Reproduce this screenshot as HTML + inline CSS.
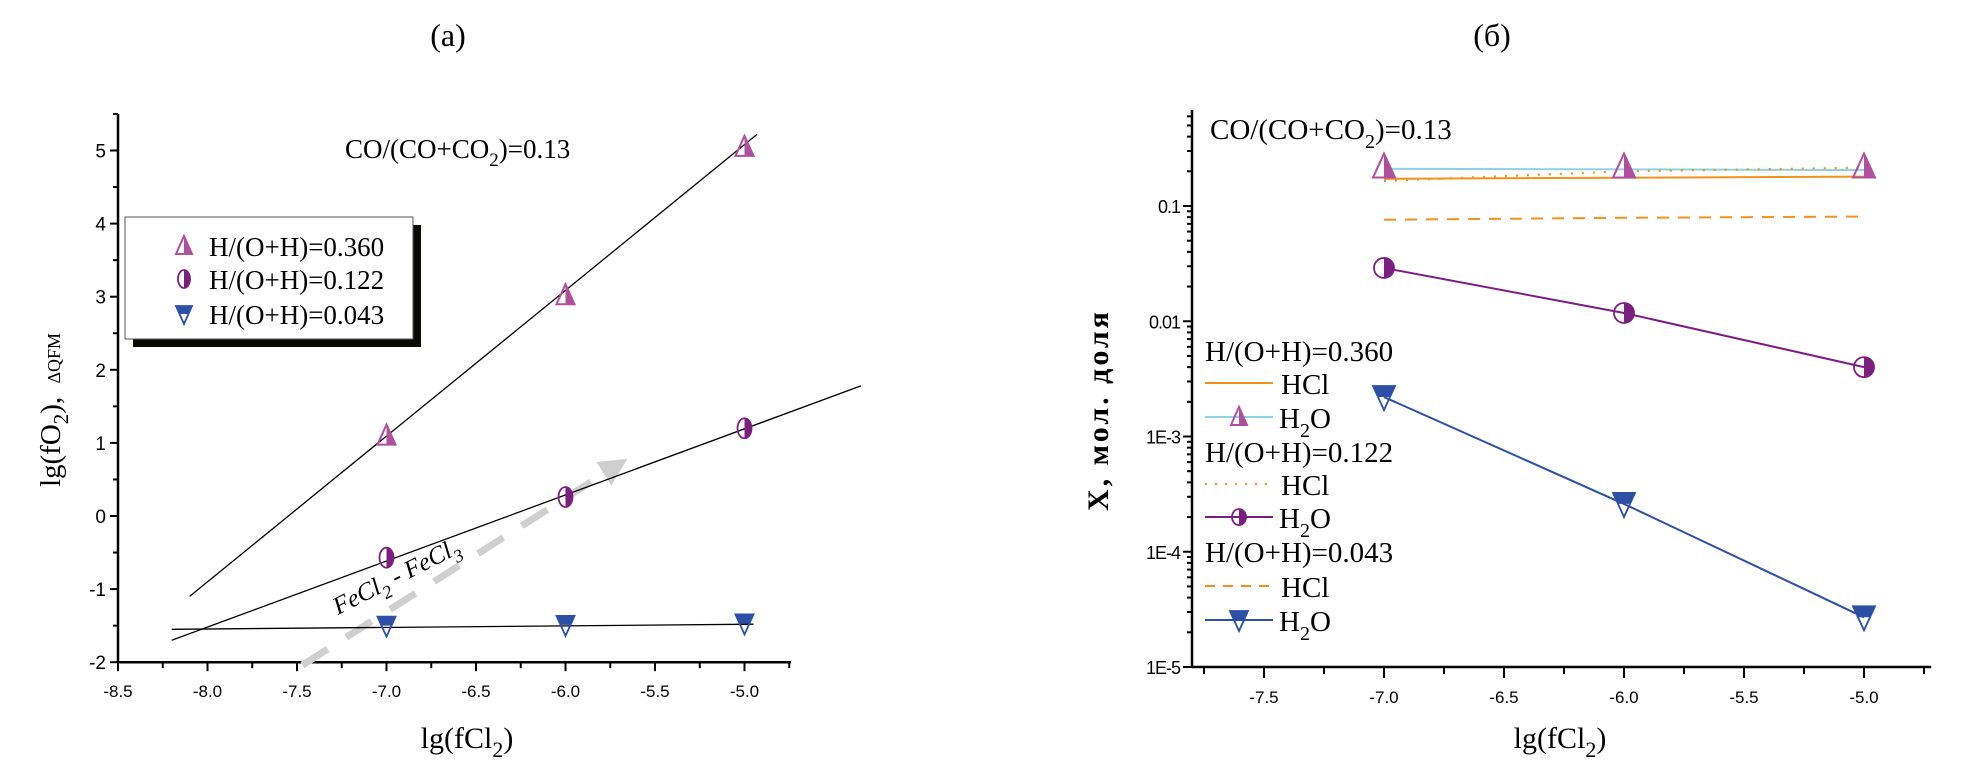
<!DOCTYPE html>
<html><head><meta charset="utf-8">
<style>
html,body{margin:0;padding:0;background:#fff;}
svg{display:block;}
.ser{font-family:"Liberation Serif","DejaVu Serif",serif;}
.san{font-family:"Liberation Sans","DejaVu Sans",sans-serif;}
</style></head>
<body>
<svg id="fig" width="1978" height="770" viewBox="0 0 1978 770" xmlns="http://www.w3.org/2000/svg">
<defs>
<marker id="arrowG" viewBox="0 0 10 10" refX="5" refY="5" markerWidth="4" markerHeight="4" orient="auto"><path d="M0,0 L10,5 L0,10 z" fill="#cfcfcf"/></marker>
</defs>
<g id="chartA"></g>
<g id="chartB"></g>
</svg>
<script>
// ---------- Chart (a) data ----------
const aXTicks = [-8.5,-8.0,-7.5,-7.0,-6.5,-6.0,-5.5,-5.0];
const aXTickLabels = ["-8.5","-8.0","-7.5","-7.0","-6.5","-6.0","-5.5","-5.0"];
const aYTicks = [-2,-1,0,1,2,3,4,5];
const aYTickLabels = ["-2","-1","0","1","2","3","4","5"];
const aX = [-7,-6,-5];
const aTri = [1.1,3.02,5.05];
const aCirc = [-0.57,0.26,1.2];
const aInv = [-1.5,-1.49,-1.47];
const aFitTriX = [-8.1,-4.93];
const aFitTriY = [-1.1,5.22];
const aFitCircX = [-8.2,-4.35];
const aFitCircY = [-1.7,1.78];
const aFitInvX = [-8.2,-4.95];
const aFitInvY = [-1.55,-1.48];
const aFeX = [-7.47,-5.72];
const aFeY = [-2.04,0.68];

// ---------- Chart (b) data ----------
const bXTicks = [-7.5,-7.0,-6.5,-6.0,-5.5,-5.0];
const bXTickLabels = ["-7.5","-7.0","-6.5","-6.0","-5.5","-5.0"];
const bYDecades = [-5,-4,-3,-2,-1];
const bYTickLabels = ["1E-5","1E-4","1E-3","0.01","0.1"];
const bX = [-7,-6,-5];
const bH2O360 = [0.21,0.208,0.205];
const bHCl360 = [0.172,0.176,0.18];
const bHCl122 = [0.165,0.2,0.215];
const bHCl043 = [0.076,0.079,0.081];
const bH2O122 = [0.029,0.0118,0.004];
const bH2O043 = [0.0022,0.00026,0.000027];
const bTri360 = [0.22,0.22,0.22];

const NS="http://www.w3.org/2000/svg";
function mk(parent, tag, attrs){const e=document.createElementNS(NS,tag);for(const k in attrs)e.setAttribute(k,attrs[k]);parent.appendChild(e);return e;}

const MAG="#b04f9e", PUR="#7a1f80", BLU="#2d4fa6", ORG="#f0921c", CYN="#8fd2e2";

function triUp(g,cx,cy,s){
  const h=s*1.0;
  mk(g,'path',{d:`M${cx},${cy-h/2-2} L${cx+s/2},${cy+h/2} L${cx},${cy+h/2} Z`,fill:MAG});
  mk(g,'path',{d:`M${cx},${cy-h/2-2} L${cx-s/2},${cy+h/2} L${cx+s/2},${cy+h/2} Z`,fill:'none',stroke:MAG,'stroke-width':2});
}
function halfCirc(g,cx,cy,rx,ry){
  mk(g,'path',{d:`M${cx},${cy-ry} A${rx},${ry} 0 0 1 ${cx},${cy+ry} Z`,fill:PUR});
  mk(g,'ellipse',{cx:cx,cy:cy,rx:rx,ry:ry,fill:'none',stroke:PUR,'stroke-width':1.8});
}
function triDown(g,cx,cy,s){
  const h=s*1.0;
  mk(g,'path',{d:`M${cx-s/2},${cy-h/2} L${cx+s/2},${cy-h/2} L${cx+s/4},${cy} L${cx-s/4},${cy} Z`,fill:BLU});
  mk(g,'path',{d:`M${cx-s/2},${cy-h/2} L${cx+s/2},${cy-h/2} L${cx},${cy+h/2+2} Z`,fill:'none',stroke:BLU,'stroke-width':1.8});
}

// ================= Chart A =================
(function(){
const g=document.getElementById('chartA');
const X0=118, XU=179, Y0=516, YU=73.1;
const sx=v=>X0+(v+8.5)*XU;
const sy=v=>Y0-v*YU;
const left=sx(-8.5), right=sx(-4.74), top=sy(5.5), bot=sy(-2);
const ax=mk(g,'g',{});


mk(ax,'line',{x1:left,y1:bot,x2:right,y2:bot,stroke:'#000','stroke-width':2.5});
for(let v=-8.5;v<=-4.74;v+=0.25){const x=sx(v);mk(ax,'line',{x1:x,y1:bot,x2:x,y2:bot+(Math.abs((v*2)%1)<1e-6?9:6),stroke:'#000','stroke-width':2});}
aXTicks.forEach((v,i)=>{const t=mk(ax,'text',{x:sx(v),y:bot+35,'text-anchor':'middle','font-size':17,class:'san'});t.textContent=aXTickLabels[i];});
const ay=mk(g,'g',{});


mk(ay,'line',{x1:left,y1:top,x2:left,y2:bot,stroke:'#000','stroke-width':2.5});
for(let v=-2;v<=5.5;v+=0.5){const y=sy(v);mk(ay,'line',{x1:left-(Number.isInteger(v)?8:5),y1:y,x2:left,y2:y,stroke:'#000','stroke-width':2});}
aYTicks.forEach((v,i)=>{const t=mk(ay,'text',{x:left-12,y:sy(v)+7,'text-anchor':'end','font-size':19,class:'san'});t.textContent=aYTickLabels[i];});
const yt=mk(g,'text',{x:0,y:0,transform:`translate(60,410) rotate(-90)`,'text-anchor':'middle','font-size':29,class:'ser'});


yt.innerHTML='lg(fO<tspan font-size="21" dy="8">2</tspan><tspan dy="-8">), </tspan><tspan font-size="18" dx="6">ΔQFM</tspan>';
const xt=mk(g,'text',{x:467,y:748,'text-anchor':'middle','font-size':30,class:'ser'});


xt.innerHTML='lg(fCl<tspan font-size="22" dy="9">2</tspan><tspan dy="-9">)</tspan>';
const pt=mk(g,'text',{x:448,y:46,'text-anchor':'middle','font-size':32,class:'ser'});


pt.textContent='(a)';
const ct=mk(g,'text',{x:345,y:158,'font-size':27,class:'ser'});


ct.innerHTML='CO/(CO+CO<tspan font-size="19" dy="8">2</tspan><tspan dy="-8">)=0.13</tspan>';
const fe=mk(g,'line',{x1:sx(aFeX[0]),y1:sy(aFeY[0]),x2:sx(aFeX[1]),y2:sy(aFeY[1]),stroke:'#cfcfcf','stroke-width':7,'stroke-dasharray':'30,22','marker-end':'url(#arrowG)'});


const fl=mk(g,'text',{x:0,y:0,transform:'translate(338,615) rotate(-27)','font-size':25,'font-style':'italic',class:'ser'});


fl.innerHTML='FeCl<tspan font-size="18" dy="8">2</tspan><tspan dy="-8"> - FeCl</tspan><tspan font-size="18" dy="8">3</tspan>';
[[aFitTriX,aFitTriY,'fit-line-0360'],[aFitCircX,aFitCircY,'fit-line-0122'],[aFitInvX,aFitInvY,'fit-line-0043']].forEach(([xs,ys,n])=>{
  const l=mk(g,'line',{x1:sx(xs[0]),y1:sy(ys[0]),x2:sx(xs[1]),y2:sy(ys[1]),stroke:'#000','stroke-width':1.3});
  
  
});
aX.forEach((x,i)=>{
  const p1=mk(g,'g',{});triUp(p1,sx(x),sy(aTri[i]),18);
  const p2=mk(g,'g',{});halfCirc(p2,sx(x),sy(aCirc[i]),7,10);
  const p3=mk(g,'g',{});triDown(p3,sx(x),sy(aInv[i]),18);
});
const lg=mk(g,'g',{});


mk(lg,'rect',{x:133,y:225,width:288,height:122,fill:'#0a0a06'});
mk(lg,'rect',{x:125,y:217,width:288,height:122,fill:'#fff',stroke:'#555','stroke-width':1});
const lt=[['H/(O+H)=0.360',246],['H/(O+H)=0.122',279],['H/(O+H)=0.043',314]];
lt.forEach(([s,y],i)=>{
  const e=mk(lg,'g',{});
  if(i===0)triUp(e,184,y,16);else if(i===1)halfCirc(e,184,y,6,9);else triDown(e,184,y,16);
  const t=mk(e,'text',{x:209,y:y+10,'font-size':27,class:'ser'});t.textContent=s;
});
})();

// ================= Chart B =================
(function(){
const g=document.getElementById('chartB');
const X0=1264, XU=240, Y0=667, DU=115.25;
const sx=v=>X0+(v+7.5)*XU;
const sy=v=>Y0-(Math.log10(v)+5)*DU;
const left=1192, right=sx(-4.72), bot=667, top=110;
const ax=mk(g,'g',{});


mk(ax,'line',{x1:left,y1:bot,x2:right,y2:bot,stroke:'#000','stroke-width':2.5});
for(let v=-7.75;v<=-4.74;v+=0.25){const x=sx(v);mk(ax,'line',{x1:x,y1:bot,x2:x,y2:bot+(Math.abs((v*2)%1)<1e-6?11:7),stroke:'#000','stroke-width':2});}
bXTicks.forEach((v,i)=>{const t=mk(ax,'text',{x:sx(v),y:bot+36,'text-anchor':'middle','font-size':17,class:'san'});t.textContent=bXTickLabels[i];});
const ay=mk(g,'g',{});


mk(ay,'line',{x1:left,y1:top,x2:left,y2:bot,stroke:'#000','stroke-width':2.5});
for(let d=-5;d<=-1;d++){for(let m=1;m<=9;m++){const v=m*Math.pow(10,d);const y=sy(v);if(y<top)continue;mk(ay,'line',{x1:left-(m===1?9:5),y1:y,x2:left,y2:y,stroke:'#000','stroke-width':2});}}
bYDecades.forEach((d,i)=>{const t=mk(ay,'text',{x:left-12,y:sy(Math.pow(10,d))+7,'text-anchor':'end','font-size':18,class:'san','letter-spacing':'-1'});t.textContent=bYTickLabels[i];});
const yt=mk(g,'text',{x:0,y:0,transform:'translate(1108,410) rotate(-90)','text-anchor':'middle','font-size':30,'font-weight':'bold','letter-spacing':'3',class:'ser'});


yt.textContent='X, мол. доля';
const xt=mk(g,'text',{x:1560,y:748,'text-anchor':'middle','font-size':30,class:'ser'});


xt.innerHTML='lg(fCl<tspan font-size="22" dy="9">2</tspan><tspan dy="-9">)</tspan>';
const pt=mk(g,'text',{x:1492,y:46,'text-anchor':'middle','font-size':32,class:'ser'});


pt.textContent='(б)';
const ct=mk(g,'text',{x:1210,y:139,'font-size':29,class:'ser'});


ct.innerHTML='CO/(CO+CO<tspan font-size="20" dy="9">2</tspan><tspan dy="-9">)=0.13</tspan>';
function series(vals,color,w,dash,name){
  const d=bX.map((x,i)=>(i?'L':'M')+sx(x)+','+sy(vals[i])).join(' ');
  const p=mk(g,'path',{d:d,fill:'none',stroke:color,'stroke-width':w});
  if(dash)p.setAttribute('stroke-dasharray',dash);
  
  
}
series(bHCl043,ORG,2,'12,9','hcl-0043-line');
series(bHCl360,ORG,2,null,'hcl-0360-line');
series(bH2O360,CYN,2,null,'h2o-0360-line');
series(bHCl122,ORG,2.2,'2,9','hcl-0122-line');
series(bH2O122,PUR,2,null,'h2o-0122-line');
series(bH2O043,BLU,2,null,'h2o-0043-line');
bX.forEach((x,i)=>{
  const p1=mk(g,'g',{});triUp(p1,sx(x),sy(bTri360[i]),22);
  const p2=mk(g,'g',{});halfCirc(p2,sx(x),sy(bH2O122[i]),10,10);
  const p3=mk(g,'g',{});triDown(p3,sx(x),sy(bH2O043[i]),22);
});
const lg=mk(g,'g',{});


const rows=[
 ['h','H/(O+H)=0.360',350],['l','HCl',383,ORG,null,0],['l','H₂O',417,CYN,null,1],
 ['h','H/(O+H)=0.122',451],['l','HCl',484,ORG,'2,8',0],['l','H₂O',517,PUR,null,2],
 ['h','H/(O+H)=0.043',551],['l','HCl',586,ORG,'10,8',0],['l','H₂O',620,BLU,null,3]];
rows.forEach(r=>{
  const e=mk(lg,'g',{});
  if(r[0]==='h'){const t=mk(e,'text',{x:1205,y:r[2]+11,'font-size':29,class:'ser'});t.textContent=r[1];return;}
  const y=r[2];
  const l=mk(e,'line',{x1:1205,y1:y,x2:1273,y2:y,stroke:r[3],'stroke-width':2});
  if(r[4])l.setAttribute('stroke-dasharray',r[4]);
  if(r[5]===1)triUp(e,1239,y,16);else if(r[5]===2)halfCirc(e,1239,y,7,8);else if(r[5]===3)triDown(e,1239,y,18);
  const t=mk(e,'text',{x:r[5]?1279:1281,y:y+11,'font-size':29,class:'ser'});
  if(r[1]==='HCl')t.textContent='HCl';else t.innerHTML='H<tspan font-size="20" dy="9">2</tspan><tspan dy="-9">O</tspan>';
});
})();
</script>
</body></html>
